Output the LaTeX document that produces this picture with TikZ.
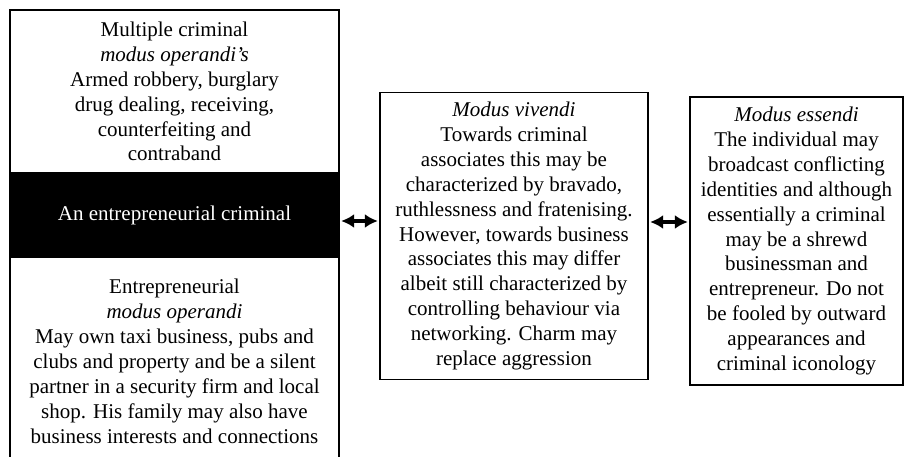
\documentclass[tikz,border=0pt]{standalone}
\usepackage{fontspec}
\setmainfont{Liberation Serif}
\usetikzlibrary{arrows.meta}
\begin{document}
\begin{tikzpicture}[x=1pt,y=1pt,
  txt/.style={font=\fontsize{21}{24.9}\selectfont, align=center, inner sep=0pt},
  box/.style={txt, draw=black, line width=1.3pt, rectangle},
  darkbox/.style={txt, fill=black, text=white, draw=black, line width=1.3pt, rectangle},
  dblarrow/.style={line width=3.4pt, {Latex[length=13pt,width=14pt]}-{Latex[length=13pt,width=14pt]}, shorten <=1.5pt, shorten >=1.5pt}
]
\useasboundingbox (0,0) rectangle (905,456);
\fill[white] (0,0) rectangle (905,456);
\clip (0,0) rectangle (905,456);

\node[box, minimum width=329pt, minimum height=163pt] (top) at (174.5,364.5)
  {Multiple criminal\\ \textit{modus operandi's}\\ Armed robbery, burglary\\ drug dealing, receiving,\\ counterfeiting and\\ contraband};
\node[darkbox, minimum width=329pt, minimum height=84pt] (black) at (174.5,241)
  {An entrepreneurial criminal};
\node[box, minimum width=329pt, minimum height=209pt] (bottom) at (174.5,94.5)
  {Entrepreneurial\\ \textit{modus operandi}\\ May own taxi business, pubs and\\ clubs and property and be a silent\\ partner in a security firm and local\\ shop. His family may also have\\ business interests and connections};

\node[box, minimum width=268pt, minimum height=287pt] (mid) at (514,220)
  {\textit{Modus vivendi}\\ Towards criminal\\ associates this may be\\ characterized by bravado,\\ ruthlessness and fratenising.\\ However, towards business\\ associates this may differ\\ albeit still characterized by\\ controlling behaviour via\\ networking. Charm may\\ replace aggression};

\node[box, minimum width=213pt, minimum height=288pt] (right) at (796.5,215)
  {\textit{Modus essendi}\\ The individual may\\ broadcast conflicting\\ identities and although\\ essentially a criminal\\ may be a shrewd\\ businessman and\\ entrepreneur. Do not\\ be fooled by outward\\ appearances and\\ criminal iconology};

\draw[dblarrow] ([yshift=-6pt]black.east) -- ([yshift=-6pt]black.east -| mid.west);
\draw[dblarrow] ([yshift=14pt]mid.east) -- ([yshift=14pt]mid.east -| right.west);
\end{tikzpicture}
\end{document}
